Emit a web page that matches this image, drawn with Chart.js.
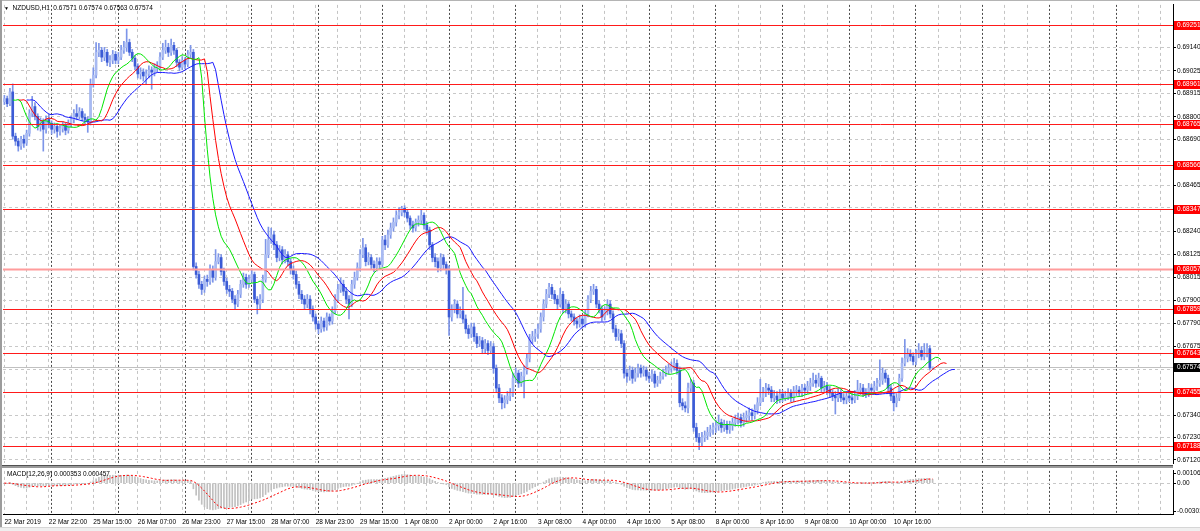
<!DOCTYPE html>
<html>
<head>
<meta charset="utf-8">
<title>NZDUSD,H1</title>
<script src="https://cdn.jsdelivr.net/npm/chart.js@4.4.1/dist/chart.umd.min.js"></script>
<style>
  html, body { margin: 0; padding: 0; background: #ffffff; }
  body { position: relative; width: 1200px; height: 531px; overflow: hidden; font-family: "Liberation Sans", Arial, sans-serif; }
  canvas { position: absolute; left: 0; }
  #mainChart { top: 0; }
  #macdChart { top: 466px; }
  .strip { position: absolute; }
  #topEdge { left: 0; top: 0; width: 1200px; height: 1px; background: #b4b4b4; }
  #leftEdge { left: 0; top: 0; width: 2px; height: 527px; background: #9c9c9c; }
  #paneSplit { left: 2px; top: 465px; width: 1171px; height: 3px; background: #9a9a9a; border-top: 1px solid #505050; box-sizing: border-box; }
  #statusBar { left: 0; top: 527px; width: 1200px; height: 4px; background: #efefef; border-top: 1px solid #d6d6d6; box-sizing: border-box; }
  .caption { position: absolute; font-size: 6.5px; line-height: 8px; color: #000; white-space: pre; }
  #header { left: 4px; top: 4px; }
  #header .arrow { font-size: 5px; }
  #macdTitle { left: 7px; top: 470px; }
</style>
</head>
<body>
<canvas id="mainChart" width="1200" height="468"></canvas>
<canvas id="macdChart" width="1200" height="61"></canvas>
<div class="strip" id="topEdge"></div>
<div class="strip" id="leftEdge"></div>
<div class="strip" id="paneSplit"></div>
<div class="strip" id="statusBar"></div>
<div class="caption" id="header"><span class="arrow">&#9660;</span>  NZDUSD,H1  0.67571 0.67574 0.67563 0.67574</div>
<div class="caption" id="macdTitle">MACD(12,26,9) 0.000353 0.000457</div>
<script>
// trading days shown on the chart (broker time), first and last hourly bar
const sessions = [
  ['22 Mar', 6, 22], ['25 Mar', 0, 23], ['26 Mar', 0, 23], ['27 Mar', 0, 23], ['28 Mar', 0, 23], ['29 Mar', 0, 22],
  ['1 Apr', 0, 23], ['2 Apr', 0, 23], ['3 Apr', 0, 23], ['4 Apr', 0, 23], ['5 Apr', 0, 23],
  ['8 Apr', 0, 23], ['9 Apr', 0, 23], ['10 Apr', 0, 23], ['11 Apr', 0, 23], ['12 Apr', 0, 23],
  ['15 Apr', 0, 23], ['16 Apr', 0, 23]
];

// NZDUSD H1 prices
const firstOpen = 0.68874;
const closes = [
  0.68889, 0.68864, 0.68922, 0.68705, 0.68681, 0.68657, 0.68690, 0.68671, 0.68719, 0.68816, 0.68850, 0.68802, 0.68753, 0.68777, 0.68739, 0.68787, 0.68768,
  0.68739, 0.68753, 0.68729, 0.68743, 0.68758, 0.68734, 0.68768, 0.68787, 0.68816, 0.68802, 0.68826, 0.68797, 0.68787, 0.68777,
  0.68961, 0.69004, 0.69116, 0.69126, 0.69092, 0.69116, 0.69067, 0.69077, 0.69106, 0.69077, 0.69092, 0.69126, 0.69140, 0.69164, 0.69116, 0.69087, 0.69048, 0.69010, 0.69019,
  0.69000, 0.69010, 0.69029, 0.69019, 0.69038, 0.69048, 0.69092, 0.69126, 0.69140, 0.69116, 0.69150, 0.69126, 0.69067, 0.69043, 0.69077, 0.69058, 0.69106, 0.69116,
  0.68067, 0.68028, 0.67980, 0.67955, 0.68004, 0.67994, 0.68052, 0.68014, 0.68091, 0.68111, 0.68043, 0.67994, 0.67955, 0.67946, 0.67907, 0.67883, 0.67931, 0.67980, 0.68014,
  0.67980, 0.68004, 0.68028, 0.67907, 0.67883, 0.67907, 0.68004, 0.68125, 0.68197, 0.68222, 0.68173, 0.68111, 0.68149, 0.68101, 0.68125, 0.68091, 0.68052, 0.68028,
  0.67980, 0.67931, 0.67907, 0.67883, 0.67907, 0.67859, 0.67820, 0.67786, 0.67762, 0.67800, 0.67771, 0.67820, 0.67800, 0.67849, 0.67907, 0.67955, 0.67980, 0.67946,
  0.67907, 0.67883, 0.67980, 0.68014, 0.68062, 0.68125, 0.68159, 0.68091, 0.68111, 0.68077, 0.68062, 0.68091, 0.68077, 0.68197, 0.68173, 0.68222, 0.68256, 0.68284,
  0.68318, 0.68333, 0.68352, 0.68333, 0.68304, 0.68270, 0.68256, 0.68284, 0.68294, 0.68318, 0.68270, 0.68246, 0.68173, 0.68111, 0.68091, 0.68062, 0.68111, 0.68077, 0.68052,
  0.67820, 0.67859, 0.67883, 0.67835, 0.67849, 0.67810, 0.67762, 0.67738, 0.67771, 0.67724, 0.67690, 0.67704, 0.67665, 0.67690, 0.67656, 0.67675, 0.67569, 0.67472,
  0.67424, 0.67400, 0.67414, 0.67433, 0.67448, 0.67520, 0.67545, 0.67496, 0.67530, 0.67559, 0.67617, 0.67714, 0.67724, 0.67738, 0.67762, 0.67820, 0.67883, 0.67931,
  0.67965, 0.67931, 0.67907, 0.67883, 0.67931, 0.67859, 0.67883, 0.67835, 0.67820, 0.67800, 0.67786, 0.67810, 0.67786, 0.67835, 0.67907, 0.67946, 0.67955, 0.67883,
  0.67859, 0.67820, 0.67849, 0.67883, 0.67835, 0.67762, 0.67724, 0.67738, 0.67690,
  0.67545, 0.67530, 0.67559, 0.67520, 0.67545, 0.67569, 0.67545, 0.67559, 0.67530, 0.67520, 0.67540, 0.67496, 0.67510, 0.67530, 0.67545, 0.67559, 0.67569, 0.67578,
  0.67593, 0.67559, 0.67400, 0.67385, 0.67375, 0.67472, 0.67496, 0.67279, 0.67230, 0.67206, 0.67230, 0.67240, 0.67255, 0.67269, 0.67279, 0.67288, 0.67303, 0.67279,
  0.67293, 0.67269, 0.67288, 0.67303, 0.67317, 0.67327, 0.67303, 0.67327, 0.67337, 0.67351, 0.67337, 0.67366, 0.67400, 0.67424, 0.67448, 0.67472, 0.67462, 0.67424,
  0.67433, 0.67414, 0.67443, 0.67424, 0.67433, 0.67448,
  0.67424, 0.67457, 0.67462, 0.67448, 0.67472, 0.67462, 0.67481, 0.67496, 0.67510, 0.67496, 0.67520, 0.67472, 0.67481, 0.67462, 0.67448, 0.67433, 0.67424, 0.67448,
  0.67424, 0.67414, 0.67433, 0.67424, 0.67414, 0.67433, 0.67462, 0.67472, 0.67448, 0.67448, 0.67472, 0.67462, 0.67481, 0.67496, 0.67510, 0.67545, 0.67520, 0.67472,
  0.67433, 0.67400, 0.67424, 0.67520, 0.67593, 0.67617, 0.67641, 0.67627, 0.67602, 0.67641, 0.67656, 0.67627, 0.67641, 0.67665, 0.67571, 0.67574
];
const highs = [
  0.68905, 0.68902, 0.68940, 0.68961, 0.68720, 0.68695, 0.68705, 0.68710, 0.68735, 0.68835, 0.68900, 0.68870, 0.68815, 0.68795, 0.68790, 0.68805, 0.68810,
  0.68780, 0.68770, 0.68765, 0.68760, 0.68775, 0.68772, 0.68785, 0.68805, 0.68835, 0.68860, 0.68845, 0.68840, 0.68815, 0.68800,
  0.68985, 0.69040, 0.69164, 0.69160, 0.69140, 0.69140, 0.69130, 0.69100, 0.69125, 0.69120, 0.69115, 0.69150, 0.69170, 0.69230, 0.69180, 0.69130, 0.69100, 0.69060, 0.69040,
  0.69035, 0.69030, 0.69050, 0.69045, 0.69060, 0.69070, 0.69115, 0.69160, 0.69175, 0.69160, 0.69180, 0.69165, 0.69135, 0.69080, 0.69095, 0.69090, 0.69125, 0.69150,
  0.69130, 0.68085, 0.68045, 0.67995, 0.68020, 0.68025, 0.68075, 0.68070, 0.68150, 0.68130, 0.68125, 0.68060, 0.68010, 0.67975, 0.67960, 0.67925, 0.67950, 0.68000, 0.68035,
  0.68030, 0.68025, 0.68055, 0.68040, 0.67920, 0.67930, 0.68025, 0.68200, 0.68260, 0.68255, 0.68240, 0.68190, 0.68170, 0.68165, 0.68150, 0.68140, 0.68105, 0.68070,
  0.68045, 0.67995, 0.67950, 0.67925, 0.67930, 0.67925, 0.67875, 0.67835, 0.67800, 0.67820, 0.67815, 0.67840, 0.67835, 0.67870, 0.67930, 0.67980, 0.68010, 0.68000,
  0.67965, 0.67925, 0.68000, 0.68040, 0.68085, 0.68150, 0.68205, 0.68175, 0.68135, 0.68125, 0.68095, 0.68110, 0.68110, 0.68215, 0.68220, 0.68245, 0.68280, 0.68305,
  0.68340, 0.68355, 0.68362, 0.68365, 0.68345, 0.68315, 0.68290, 0.68300, 0.68315, 0.68345, 0.68330, 0.68285, 0.68260, 0.68185, 0.68130, 0.68110, 0.68130, 0.68125, 0.68090,
  0.68070, 0.67880, 0.67905, 0.67900, 0.67870, 0.67965, 0.67830, 0.67780, 0.67790, 0.67790, 0.67740, 0.67725, 0.67720, 0.67710, 0.67705, 0.67700, 0.67690, 0.67585,
  0.67490, 0.67440, 0.67435, 0.67455, 0.67470, 0.67545, 0.67570, 0.67560, 0.67550, 0.67580, 0.67640, 0.67735, 0.67750, 0.67760, 0.67785, 0.67840, 0.67905, 0.67955,
  0.67985, 0.67980, 0.67950, 0.67925, 0.67960, 0.67945, 0.67905, 0.67895, 0.67850, 0.67835, 0.67815, 0.67830, 0.67825, 0.67855, 0.67925, 0.67970, 0.67980, 0.67970,
  0.67900, 0.67875, 0.67870, 0.67905, 0.67900, 0.67850, 0.67780, 0.67760, 0.67755,
  0.67705, 0.67565, 0.67580, 0.67575, 0.67570, 0.67590, 0.67585, 0.67580, 0.67575, 0.67550, 0.67560, 0.67555, 0.67530, 0.67550, 0.67565, 0.67580, 0.67590, 0.67600,
  0.67617, 0.67610, 0.67575, 0.67420, 0.67405, 0.67496, 0.67515, 0.67510, 0.67300, 0.67250, 0.67255, 0.67262, 0.67280, 0.67290, 0.67300, 0.67315, 0.67340, 0.67320,
  0.67315, 0.67310, 0.67310, 0.67325, 0.67340, 0.67350, 0.67345, 0.67350, 0.67360, 0.67375, 0.67370, 0.67390, 0.67425, 0.67515, 0.67475, 0.67495, 0.67490, 0.67480,
  0.67460, 0.67455, 0.67465, 0.67460, 0.67455, 0.67470,
  0.67465, 0.67480, 0.67485, 0.67480, 0.67490, 0.67490, 0.67505, 0.67520, 0.67545, 0.67535, 0.67545, 0.67530, 0.67505, 0.67500, 0.67480, 0.67465, 0.67455, 0.67470,
  0.67465, 0.67445, 0.67455, 0.67455, 0.67445, 0.67460, 0.67510, 0.67495, 0.67490, 0.67470, 0.67495, 0.67490, 0.67505, 0.67520, 0.67610, 0.67570, 0.67560, 0.67535,
  0.67490, 0.67450, 0.67445, 0.67540, 0.67620, 0.67710, 0.67665, 0.67660, 0.67645, 0.67660, 0.67690, 0.67675, 0.67690, 0.67690, 0.67680, 0.67574
];
const lows = [
  0.68860, 0.68850, 0.68855, 0.68690, 0.68660, 0.68632, 0.68640, 0.68650, 0.68660, 0.68705, 0.68800, 0.68785, 0.68735, 0.68730, 0.68632, 0.68720, 0.68745,
  0.68715, 0.68720, 0.68700, 0.68710, 0.68725, 0.68712, 0.68720, 0.68750, 0.68770, 0.68785, 0.68790, 0.68780, 0.68765, 0.68724,
  0.68760, 0.68945, 0.68990, 0.69095, 0.69070, 0.69075, 0.69050, 0.69045, 0.69060, 0.69060, 0.69060, 0.69080, 0.69110, 0.69120, 0.69100, 0.69070, 0.69030, 0.68990, 0.68985,
  0.68975, 0.68960, 0.68990, 0.68935, 0.69000, 0.69020, 0.69035, 0.69080, 0.69110, 0.69095, 0.69100, 0.69105, 0.69045, 0.69025, 0.69030, 0.69035, 0.69045, 0.69090,
  0.68050, 0.68010, 0.67960, 0.67930, 0.67940, 0.67970, 0.67980, 0.67990, 0.68000, 0.68080, 0.68025, 0.67975, 0.67935, 0.67920, 0.67890, 0.67859, 0.67870, 0.67915, 0.67965,
  0.67960, 0.67965, 0.67990, 0.67890, 0.67835, 0.67860, 0.67890, 0.67990, 0.68110, 0.68180, 0.68150, 0.68090, 0.68095, 0.68080, 0.68085, 0.68070, 0.68030, 0.68005,
  0.67960, 0.67910, 0.67885, 0.67860, 0.67865, 0.67835, 0.67800, 0.67760, 0.67738, 0.67745, 0.67750, 0.67755, 0.67780, 0.67785, 0.67835, 0.67890, 0.67940, 0.67925,
  0.67885, 0.67810, 0.67870, 0.67960, 0.68000, 0.68045, 0.68110, 0.68070, 0.68075, 0.68055, 0.68040, 0.68045, 0.68060, 0.68065, 0.68150, 0.68160, 0.68205, 0.68240,
  0.68265, 0.68300, 0.68315, 0.68310, 0.68285, 0.68250, 0.68235, 0.68240, 0.68265, 0.68275, 0.68250, 0.68225, 0.68150, 0.68090, 0.68065, 0.68040, 0.68045, 0.68055, 0.68030,
  0.67730, 0.67800, 0.67840, 0.67815, 0.67815, 0.67790, 0.67740, 0.67715, 0.67720, 0.67700, 0.67670, 0.67675, 0.67640, 0.67645, 0.67635, 0.67640, 0.67545, 0.67450,
  0.67400, 0.67370, 0.67375, 0.67395, 0.67410, 0.67430, 0.67500, 0.67475, 0.67480, 0.67424, 0.67540, 0.67600, 0.67690, 0.67700, 0.67715, 0.67745, 0.67800, 0.67865,
  0.67915, 0.67910, 0.67885, 0.67860, 0.67870, 0.67840, 0.67840, 0.67815, 0.67800, 0.67780, 0.67765, 0.67770, 0.67765, 0.67770, 0.67820, 0.67890, 0.67930, 0.67865,
  0.67840, 0.67800, 0.67805, 0.67830, 0.67815, 0.67745, 0.67705, 0.67705, 0.67670,
  0.67520, 0.67500, 0.67510, 0.67495, 0.67505, 0.67525, 0.67525, 0.67530, 0.67510, 0.67500, 0.67505, 0.67475, 0.67480, 0.67495, 0.67515, 0.67530, 0.67540, 0.67550,
  0.67560, 0.67540, 0.67380, 0.67365, 0.67355, 0.67350, 0.67455, 0.67260, 0.67210, 0.67170, 0.67190, 0.67210, 0.67220, 0.67235, 0.67245, 0.67255, 0.67265, 0.67255,
  0.67260, 0.67250, 0.67250, 0.67265, 0.67285, 0.67295, 0.67280, 0.67285, 0.67305, 0.67315, 0.67315, 0.67320, 0.67345, 0.67385, 0.67405, 0.67430, 0.67440, 0.67405,
  0.67405, 0.67395, 0.67400, 0.67405, 0.67410, 0.67415,
  0.67405, 0.67405, 0.67435, 0.67430, 0.67430, 0.67440, 0.67445, 0.67460, 0.67480, 0.67475, 0.67480, 0.67450, 0.67455, 0.67440, 0.67425, 0.67410, 0.67345, 0.67405,
  0.67405, 0.67395, 0.67395, 0.67405, 0.67395, 0.67400, 0.67415, 0.67440, 0.67430, 0.67425, 0.67430, 0.67440, 0.67445, 0.67460, 0.67480, 0.67490, 0.67500, 0.67450,
  0.67410, 0.67360, 0.67380, 0.67410, 0.67505, 0.67580, 0.67600, 0.67605, 0.67585, 0.67585, 0.67620, 0.67610, 0.67610, 0.67625, 0.67560, 0.67563
];

// horizontal levels drawn on the chart, and the last price
const levels = [0.69251, 0.68961, 0.68765, 0.68566, 0.68347, 0.68057, 0.67859, 0.67643, 0.67455, 0.67188];
const fadedLevel = 0.68057;
const lastPrice = 0.67574;

// price axis grid and its labels
const priceTicks = [0.67120, 0.67230, 0.67340, 0.67450, 0.67565, 0.67675, 0.67790, 0.67900, 0.68015, 0.68125,
                    0.68240, 0.68355, 0.68465, 0.68580, 0.68690, 0.68800, 0.68915, 0.69025, 0.69140];
const priceMin = 0.671046;
const priceMax = 0.693479;

// MACD pane scale
const macdTickValues = [-0.00301, 0, 0.001061];
const macdTickLabels = ['-0.00301', '0.00', '0.001061'];
const macdMin = -0.00331;
const macdMax = 0.00131;

const SLOTS = 421;          // bar slots across the window, data + empty right margin
const LABEL_EVERY = 16;     // time label step
const GRID_EVERY = 8;       // vertical grid step
const AXIS_FONT = { family: 'Liberation Sans', size: 6.5 };

// build bar times from the sessions
const barTimes = [];
sessions.forEach(([day, from, to]) => {
  for (let h = from; h <= to; h++) barTimes.push({ day: day, hour: h });
});
const slotLabels = barTimes.slice(0, SLOTS).map(t => t.day + ' ' + String(t.hour).padStart(2, '0') + ':00');
const dayStarts = new Set();
barTimes.slice(0, SLOTS).forEach((t, i) => { if (i > 0 && t.hour === 0) dayStarts.add(i); });
const lastBar = closes.length - 1;

const opens = closes.map((c, i) => (i === 0 ? firstOpen : closes[i - 1]));

// Alligator: smoothed MAs of the median price, shifted forward
function smoothed(src, period) {
  const out = [];
  src.forEach((v, i) => out.push(i === 0 ? v : (out[i - 1] * (period - 1) + v) / period));
  return out;
}
function shifted(series, shift) {
  const out = new Array(SLOTS).fill(null);
  series.forEach((v, i) => { if (i + shift < SLOTS) out[i + shift] = v; });
  return out;
}
const medians = highs.map((h, i) => (h + lows[i]) / 2);
const jaw = shifted(smoothed(medians, 13), 8);
const teeth = shifted(smoothed(medians, 8), 5);
const lips = shifted(smoothed(medians, 5), 3);

// MACD(12,26,9) on closes
function ema(src, period) {
  const k = 2 / (period + 1);
  const out = [];
  src.forEach((v, i) => out.push(i === 0 ? v : out[i - 1] + k * (v - out[i - 1])));
  return out;
}
const ema12 = ema(closes, 12);
const ema26 = ema(closes, 26);
const macdMain = closes.map((c, i) => ema12[i] - ema26[i]);
const macdSignal = macdMain.map((m, i) => {
  const part = macdMain.slice(Math.max(0, i - 8), i + 1);
  return part.reduce((a, b) => a + b, 0) / part.length;
});

// shared vertical grid: light every 8 bars, dark at day start
function vGridColor(ctx) {
  if (dayStarts.has(ctx.index)) return '#4a4a4a';
  if (ctx.index % GRID_EVERY === 0) return '#c4c4c4';
  return 'rgba(0,0,0,0)';
}
function vGridWidth(ctx) {
  return (dayStarts.has(ctx.index) || ctx.index % GRID_EVERY === 0) ? 1 : 0;
}
function vGridDash(ctx) {
  if (ctx.index === undefined) return [];
  return dayStarts.has(ctx.index) ? [2, 2] : [3, 3];
}
function fixWidth(scale) { scale.width = 27; }

function nearLevel(v) {
  return levels.concat([lastPrice]).some(l => Math.abs(l - v) < 0.0002);
}

// level lines and their price boxes
const levelPlugin = {
  id: 'levelPlugin',
  beforeDatasetsDraw(chart) {
    const { ctx, chartArea } = chart;
    const y = Math.round(chart.scales.y.getPixelForValue(lastPrice)) + 0.5;
    ctx.save();
    ctx.strokeStyle = '#c0c0c0';
    ctx.lineWidth = 1;
    ctx.beginPath();
    ctx.moveTo(chartArea.left, y);
    ctx.lineTo(chartArea.right, y);
    ctx.stroke();
    ctx.restore();
  },
  afterDatasetsDraw(chart) {
    const { ctx, chartArea } = chart;
    ctx.save();
    levels.forEach(level => {
      const y = Math.round(chart.scales.y.getPixelForValue(level)) + 0.5;
      ctx.strokeStyle = level === fadedLevel ? '#ff9c9c' : '#ff1a1a';
      ctx.lineWidth = level === fadedLevel ? 2 : 1;
      ctx.beginPath();
      ctx.moveTo(chartArea.left, y);
      ctx.lineTo(chartArea.right, y);
      ctx.stroke();
    });
    ctx.restore();
  },
  afterDraw(chart) {
    const { ctx, chartArea, width } = chart;
    ctx.save();
    ctx.font = '6.5px "Liberation Sans"';
    ctx.textBaseline = 'middle';
    const box = (value, fill) => {
      const y = Math.round(chart.scales.y.getPixelForValue(value));
      ctx.fillStyle = fill;
      ctx.fillRect(chartArea.right + 1, y - 4, width - chartArea.right - 1, 9);
      ctx.fillStyle = '#ffffff';
      ctx.fillText(value.toFixed(5), chartArea.right + 4, y + 0.5);
    };
    levels.forEach(level => box(level, '#ff0000'));
    box(lastPrice, '#000000');
    ctx.restore();
  }
};

new Chart(document.getElementById('mainChart'), {
  type: 'bar',
  data: {
    labels: slotLabels,
    datasets: [
      { type: 'line', label: 'Lips', data: lips, borderColor: '#00e600', borderWidth: 1, pointRadius: 0, order: 0 },
      { type: 'line', label: 'Teeth', data: teeth, borderColor: '#ff0000', borderWidth: 1, pointRadius: 0, order: 0 },
      { type: 'line', label: 'Jaw', data: jaw, borderColor: '#1a1aff', borderWidth: 1, pointRadius: 0, order: 0 },
      {
        label: 'Body',
        data: closes.map((c, i) => [opens[i], c]),
        backgroundColor: closes.map((c, i) => (c < opens[i] ? '#3b5bd6' : '#a8baf2')),
        barThickness: 2, minBarLength: 1, grouped: false, order: 1
      },
      {
        label: 'Range',
        data: highs.map((h, i) => [lows[i], h]),
        backgroundColor: '#7d95e8',
        barThickness: 1, grouped: false, order: 2
      }
    ]
  },
  options: {
    responsive: false,
    animation: false,
    devicePixelRatio: 1,
    events: [],
    layout: { padding: { left: 3, right: 0, top: 2, bottom: 2 } },
    plugins: { legend: { display: false }, tooltip: { enabled: false } },
    scales: {
      x: {
        offset: true,
        grid: { offset: false, drawTicks: false, color: vGridColor, lineWidth: vGridWidth },
        border: { display: false, dash: vGridDash },
        ticks: { display: false, autoSkip: false }
      },
      y: {
        position: 'right',
        min: priceMin,
        max: priceMax,
        afterBuildTicks: s => { s.ticks = priceTicks.map(v => ({ value: v })); },
        afterFit: fixWidth,
        grid: { color: '#c8c8c8', tickColor: '#000000', tickLength: 3 },
        border: { display: true, color: '#000000', dash: [3, 3] },
        ticks: {
          padding: 1, color: '#000000', font: AXIS_FONT,
          callback: v => (nearLevel(v) ? '' : v.toFixed(5))
        }
      }
    }
  },
  plugins: [levelPlugin]
});

new Chart(document.getElementById('macdChart'), {
  type: 'bar',
  data: {
    labels: slotLabels,
    datasets: [
      { type: 'line', label: 'Signal', data: macdSignal, borderColor: '#ff0000', borderWidth: 1, borderDash: [2, 2], pointRadius: 0, order: 0 },
      { label: 'MACD', data: macdMain, backgroundColor: '#c0c0c0', barThickness: 1, order: 1 }
    ]
  },
  options: {
    responsive: false,
    animation: false,
    devicePixelRatio: 1,
    events: [],
    layout: { padding: { left: 3, right: 0, top: 2, bottom: 0 } },
    plugins: { legend: { display: false }, tooltip: { enabled: false } },
    scales: {
      x: {
        offset: true,
        afterFit: s => { s.height = 13; },
        grid: { offset: false, drawTicks: false, color: vGridColor, lineWidth: vGridWidth },
        border: { display: true, color: '#000000', dash: vGridDash },
        ticks: {
          autoSkip: false, maxRotation: 0, minRotation: 0, align: 'start', padding: 4,
          color: '#000000', font: AXIS_FONT,
          callback: (v, i) => {
            if (i % LABEL_EVERY !== 0 || i > lastBar) return '';
            return i === 0 ? barTimes[0].day + ' 2019' : slotLabels[i];
          }
        }
      },
      y: {
        position: 'right',
        min: macdMin,
        max: macdMax,
        afterBuildTicks: s => { s.ticks = macdTickValues.map(v => ({ value: v })); },
        afterFit: fixWidth,
        grid: {
          color: ctx => (ctx.tick && ctx.tick.value === 0 ? '#c8c8c8' : 'rgba(0,0,0,0)'),
          tickColor: '#000000', tickLength: 3
        },
        border: { display: true, color: '#000000', dash: [3, 3] },
        ticks: { padding: 1, color: '#000000', font: AXIS_FONT, callback: (v, i) => macdTickLabels[i] }
      }
    }
  }
});
</script>
</body>
</html>
